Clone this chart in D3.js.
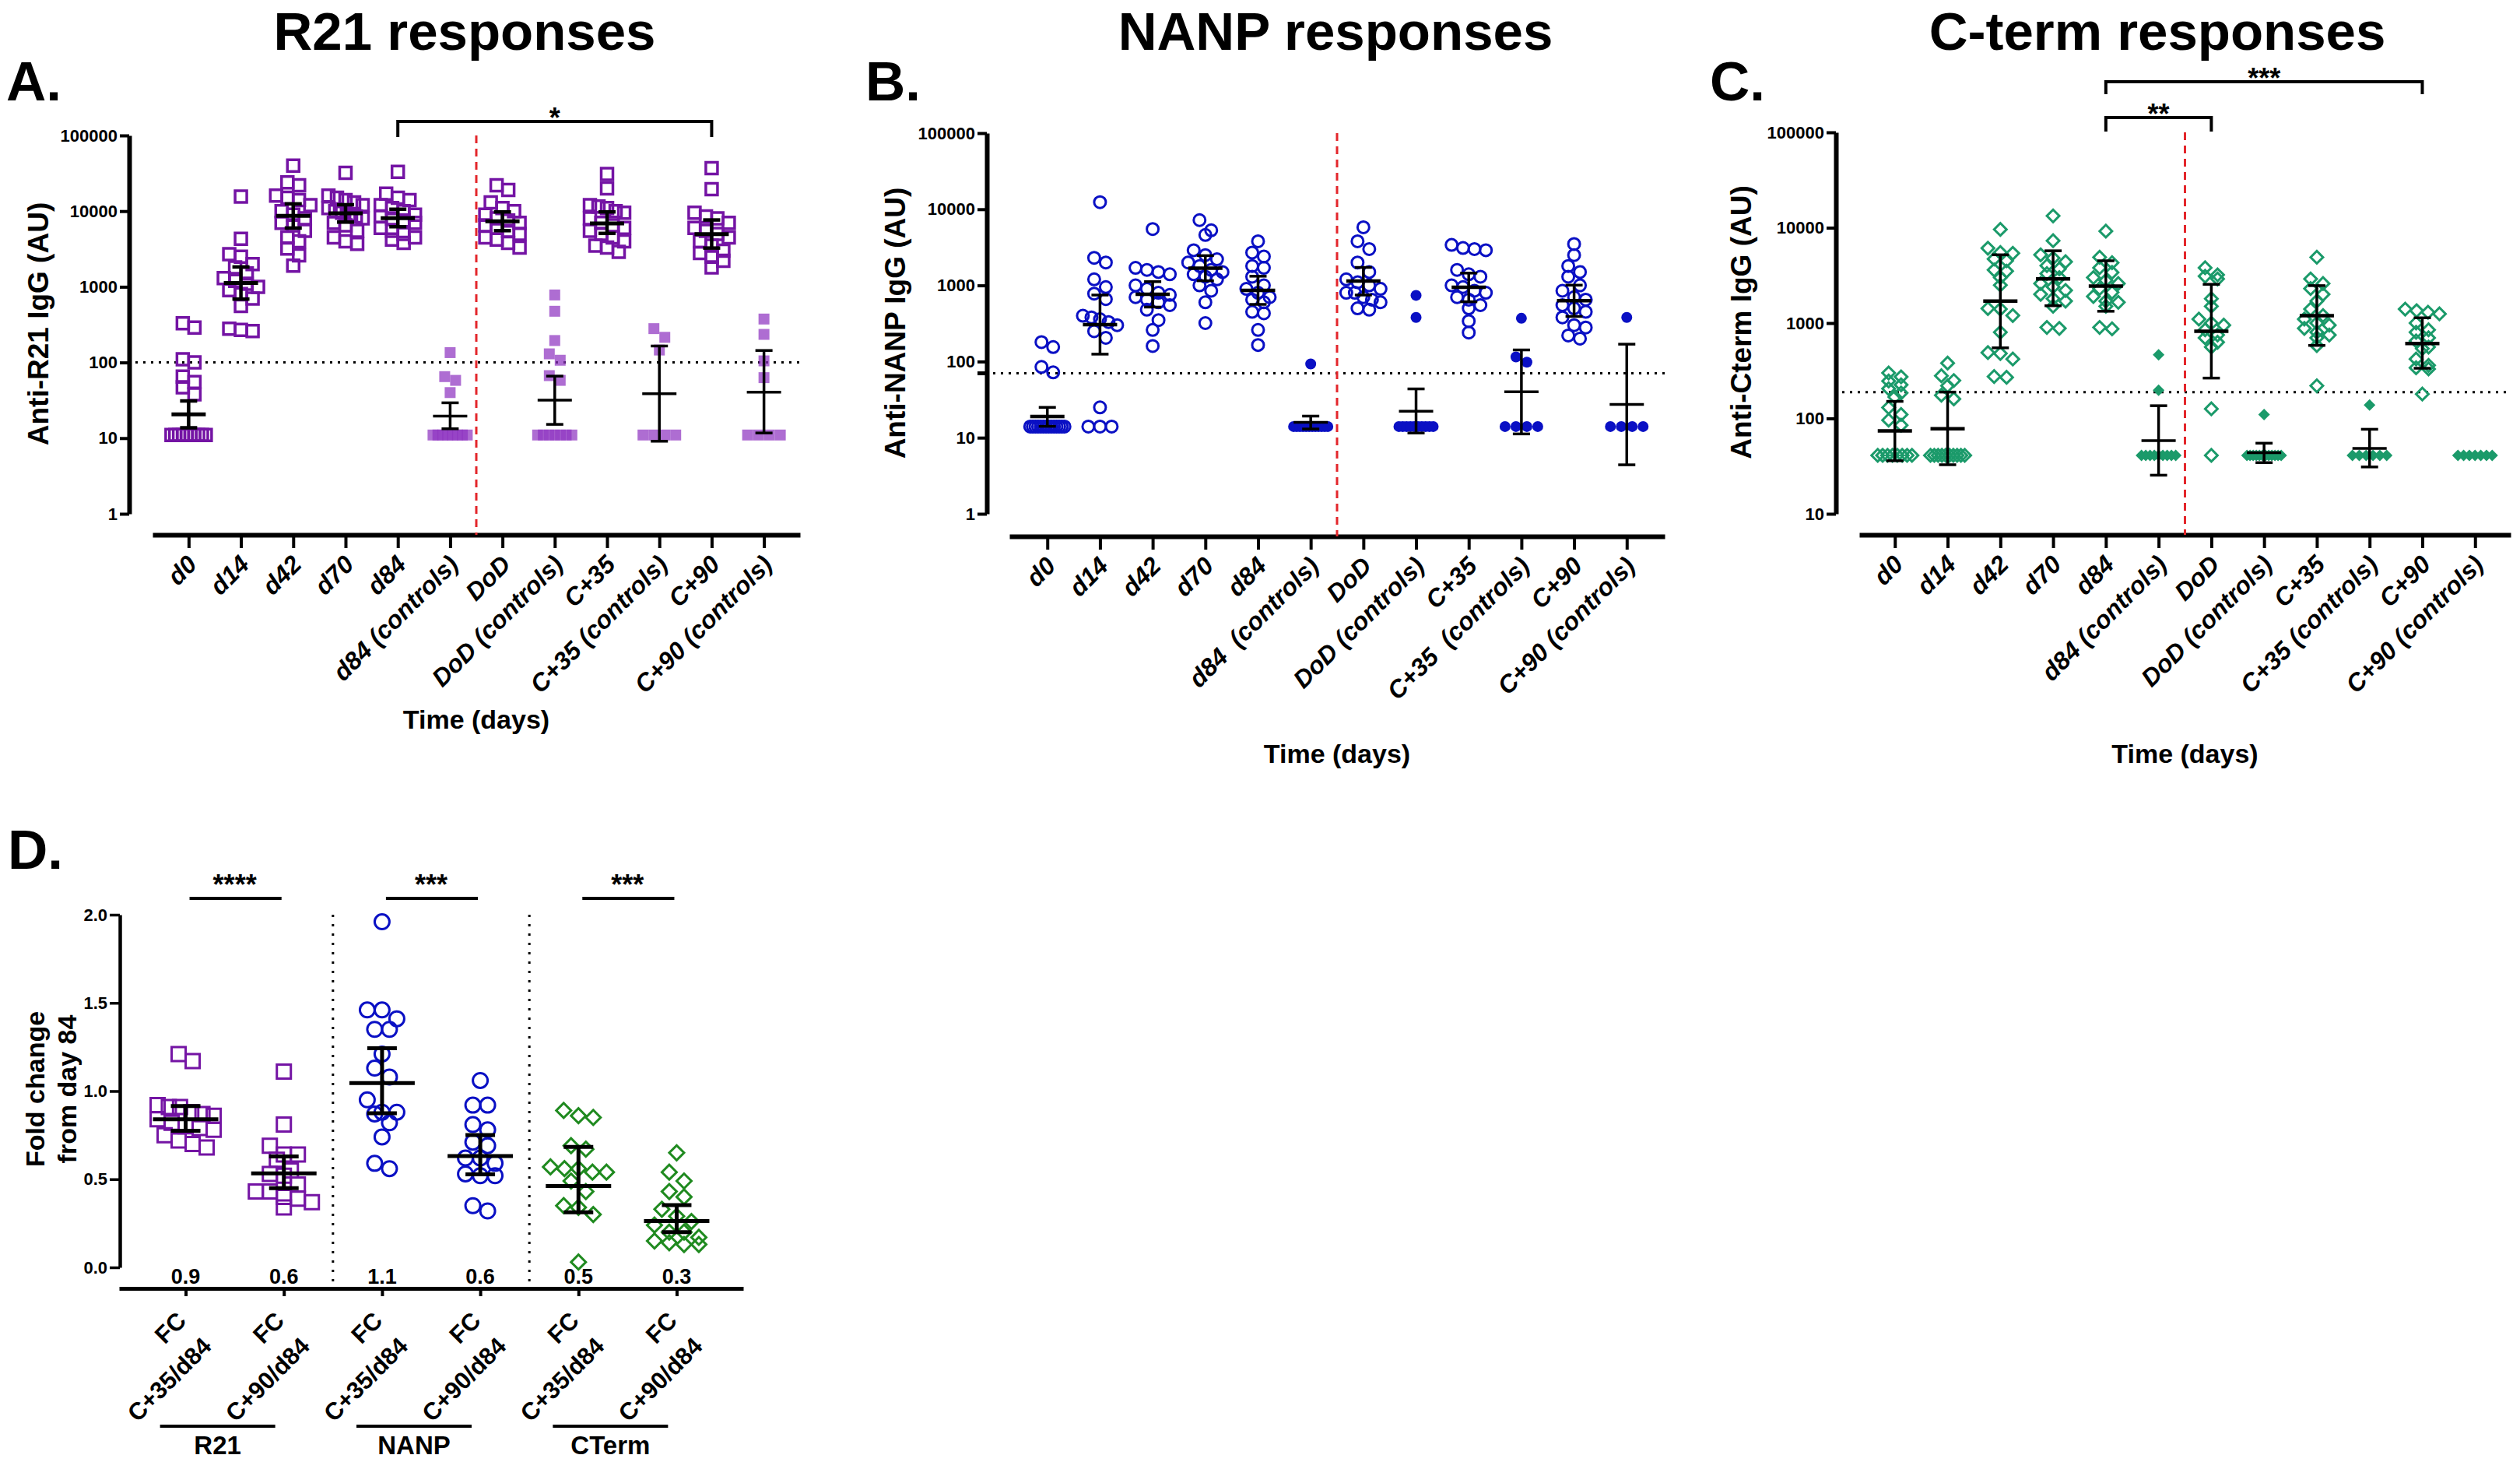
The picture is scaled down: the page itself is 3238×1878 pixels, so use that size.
<!DOCTYPE html>
<html><head><meta charset="utf-8">
<script src="https://cdn.jsdelivr.net/npm/d3@7"></script>
<style>
body{margin:0;background:#fff;}
svg{display:block;font-family:"Liberation Sans",Arial,Helvetica,sans-serif;}
text{white-space:pre;}
</style></head><body>
<svg id="chart" width="3238" height="1878"></svg>
<script>
// ---------------- DATA ----------------
const categories = ["d0","d14","d42","d70","d84","d84 (controls)","DoD","DoD (controls)","C+35","C+35 (controls)","C+90","C+90 (controls)"];
const categoriesNANP = ["d0","d14","d42","d70","d84","d84  (controls)","DoD","DoD (controls)","C+35","C+35  (controls)","C+90","C+90 (controls)"];
const isControl = [false,false,false,false,false,true,false,true,false,true,false,true];
const ticksR21 = [1,10,100,1000,10000,100000];
const ticksNANP = [1,10,100,1000,10000,100000];
const ticksCterm = [10,100,1000,10000,100000];

// R21 (panel A) individual values (AU)
const r21Points = [
  [330,290,110,100,65,55,47,38,11,11,11,11,11,11,11,11,11,11],
  [15600,4300,2700,2500,2000,1800,1500,1300,1200,1100,1000,900,800,700,560,280,270,260],
  [40000,24000,22000,16000,15000,14000,12000,10000,9000,8000,7000,6500,5500,4500,4000,3200,2600,1900],
  [32000,16000,15000,14000,13000,12000,11000,10000,9500,9000,8500,8000,7000,6500,5500,4500,4000,3700],
  [33000,17000,15000,14000,12000,11000,10000,9000,8500,8000,7500,7000,6000,5500,5000,4500,4200,3800],
  [135,65,58,40,11,11,11,11,11,11,11,11],
  [22000,19000,13000,11000,10000,9000,8000,7500,7000,6500,6000,5500,5000,4500,4200,3800,3300],
  [780,475,195,130,107,67,58,11,11,11,11,11,11,11],
  [31000,20000,12000,11500,11000,10000,9500,8000,7000,6500,6000,5500,5000,4500,4000,3500,3300,2900],
  [280,215,146,11,11,11,11],
  [37000,19500,9500,8500,8000,7000,6000,5500,5000,4500,4000,3500,3000,2800,2500,2200,1800],
  [375,235,105,63,11,11,11,11]
];
const r21Mean = [20.6,1120,8640,9340,8080,19.5,7350,31.8,6870,38.7,4960,40.6];
const r21Lo   = [13.7,688,5980,7160,6220,13.3,5520,15.2,5080,9.1,3250,11.7];
const r21Hi   = [31,1830,12470,12150,10590,29.3,9770,66,9770,165,7640,144];
const r21Threshold = 100;

// NANP (panel B)
const nanpPoints = [
  [180,155,85,72,14,14,14,14,14,14,14,14,14,14,14,14,14,14],
  [12400,2300,2000,1200,950,780,660,400,380,360,330,300,250,205,25,14,14,14],
  [5500,1700,1600,1500,1400,1000,900,800,750,700,650,600,550,480,350,260,160],
  [7200,5300,4600,2900,2500,2200,2000,1800,1600,1500,1400,1300,1200,1000,850,600,320],
  [3800,2700,2400,1800,1700,1300,1000,900,800,700,650,600,450,430,260,165],
  [93,14,14,14,14,14,14,14,14,14,14,14,14],
  [5800,3800,3000,2000,1500,1200,1100,1000,900,800,800,700,650,600,500,480],
  [740,380,14,14,14,14,14,14,14,14,14,14],
  [3400,3100,3000,2900,1600,1400,1300,1000,950,850,800,700,650,550,500,340,240],
  [370,115,98,14,14,14,14],
  [3500,2500,1800,1500,1300,1000,850,700,650,550,500,450,380,300,280,220,200],
  [380,14,14,14,14]
];
const nanpMean = [19,306,764,1680,858,15.9,1138,22.3,945,40,630,27.3];
const nanpLo   = [14.1,125,519,1150,563,13,747,11.5,610,11.2,391,4.4];
const nanpHi   = [25,747,1120,2460,1320,19.2,1722,43.7,1450,142,1007,169];
const nanpThreshold = 70;

// C-term (panel C)
const ctermPoints = [
  [300,273,247,225,205,185,168,130,110,96,85,41,41,41,41,41,41,41,41],
  [380,280,250,220,175,160,41,41,41,41,41,41,41,41,41,41],
  [9600,6100,5500,5400,4700,4500,3600,3500,3000,2500,1420,1400,1200,800,490,480,420,275,270],
  [13300,7300,5200,4800,4400,4000,3700,3300,3000,2600,2400,2200,2000,1800,1700,1500,900,880],
  [9200,4900,4300,3800,3400,3000,2800,2600,2300,2100,1900,1700,1650,1500,900,870],
  [464,198,41,41,41,41,41,41,41,41,41],
  [3800,3200,3100,2900,1800,1500,1100,1000,950,850,750,700,630,560,126,41],
  [110,41,41,41,41,41,41,41,41,41,41,41,41],
  [4900,2900,2600,2300,2000,1700,1400,1200,1100,1000,950,880,800,750,700,580,220],
  [138,41,41,41,41,41,41],
  [1400,1350,1300,1250,1000,850,800,700,650,560,540,420,360,340,330,180],
  [41,41,41,41,41,41,41]
];
const ctermMean = [74,78,1700,2900,2440,58.5,820,43.7,1196,48.5,610,null];
const ctermLo   = [36,32.7,550,1520,1330,25.4,265,34.4,583,31,336,null];
const ctermHi   = [151,189,5200,5730,4500,136,2550,55,2470,77,1135,null];
const ctermThreshold = 189;

// Fold change (panel D)
const fcLine1 = ["FC","FC","FC","FC","FC","FC"];
const fcLine2 = ["C+35/d84","C+90/d84","C+35/d84","C+90/d84","C+35/d84","C+90/d84"];
const fcGroups = ["R21","NANP","CTerm"];
const fcSig = ["****","***","***"];
const fcValueLabels = ["0.9","0.6","1.1","0.6","0.5","0.3"];
const fcTicks = [0,0.5,1,1.5,2];
const fcPoints = [
  [1.21,1.17,0.92,0.91,0.91,0.88,0.87,0.86,0.84,0.82,0.80,0.79,0.78,0.75,0.72,0.70,0.68],
  [1.11,0.81,0.69,0.64,0.64,0.61,0.55,0.53,0.52,0.47,0.43,0.43,0.40,0.39,0.37,0.34],
  [1.96,1.46,1.46,1.41,1.35,1.35,1.21,1.13,1.08,0.95,0.88,0.88,0.87,0.82,0.74,0.59,0.56],
  [1.06,0.92,0.92,0.81,0.78,0.71,0.69,0.62,0.62,0.59,0.53,0.52,0.52,0.35,0.32],
  [0.89,0.86,0.85,0.69,0.67,0.57,0.56,0.56,0.54,0.54,0.49,0.43,0.35,0.34,0.30,0.03],
  [0.65,0.54,0.49,0.43,0.40,0.33,0.29,0.26,0.24,0.20,0.20,0.17,0.15,0.14,0.13,0.13]
];
const fcMean = [0.84,0.533,1.045,0.631,0.461,0.263];
const fcLo   = [0.775,0.449,0.874,0.528,0.312,0.20];
const fcHi   = [0.915,0.629,1.243,0.751,0.683,0.353];

// ---------------- DRAWING ----------------
const svg = d3.select("#chart");
const PURPLE = "#7414a4", PURPLE_FILL = "#8f35c0", BLUE = "#0a10c4", GREEN = "#1b9a6a", DGREEN = "#1f8a1f", RED = "#e3262b";

function swarmOffsets(pys, size, maxHalf, rowFactor) {
  const idx = pys.map((p, i) => i).sort((a, b) => pys[a] - pys[b]);
  const off = new Array(pys.length).fill(0);
  let row = [], start = null;
  const flush = () => {
    const n = row.length;
    const sp = n > 1 ? Math.min(size, 2 * maxHalf / (n - 1)) : 0;
    row.forEach((k, j) => off[k] = (j - (n - 1) / 2) * sp);
    row = [];
  };
  idx.forEach(k => {
    if (row.length && pys[k] - start > size * rowFactor) flush();
    if (!row.length) start = pys[k];
    row.push(k);
  });
  flush();
  return off;
}

function symbolPath(shape, size) {
  if (shape === "circle") return d3.symbol(d3.symbolCircle, Math.PI * (size / 2) ** 2)();
  if (shape === "diamond") return d3.symbol(d3.symbolSquare, (size / Math.SQRT2) ** 2)();
  return d3.symbol(d3.symbolSquare, size * size)();
}

function drawPanel(p) {
  const g = svg.append("g");
  const y = d3.scaleLog().domain(p.yDomain).range([p.yBot, p.yTop]);
  const x = d3.scalePoint().domain(d3.range(p.cats.length)).range([p.xStart, p.xEnd]).padding(p.pad);

  // title + letter
  g.append("text").attr("x", p.titleX).attr("y", 64).attr("text-anchor", "middle")
    .attr("font-size", 69).attr("font-weight", "bold").text(p.title);
  g.append("text").attr("x", p.letterX).attr("y", 129).attr("font-size", 71)
    .attr("font-weight", "bold").text(p.letter);

  // y axis
  const ya = g.append("g").attr("transform", `translate(${p.axisX},0)`)
    .call(d3.axisLeft(y).tickValues(p.yTicks).tickFormat(d3.format("d")).tickSize(12).tickSizeOuter(0).tickPadding(3));
  ya.select(".domain").attr("stroke-width", 6).attr("stroke", "#000");
  ya.selectAll(".tick line").attr("stroke-width", 4);
  ya.selectAll(".tick text").attr("font-size", 22).attr("font-weight", "bold").attr("fill", "#000");
  if (p.thresholdTick) {
    g.append("line").attr("x1", p.axisX - 12).attr("x2", p.axisX).attr("y1", y(p.threshold)).attr("y2", y(p.threshold))
      .attr("stroke", "#000").attr("stroke-width", 5);
  }
  // y label
  g.append("text").attr("transform", `translate(${p.yLabelX + 13},${p.yLabelY}) rotate(-90)`)
    .attr("text-anchor", "middle").attr("font-size", 37).attr("font-weight", "bold").text(p.yLabel);

  // x axis
  const xa = g.append("g").attr("transform", `translate(0,${p.xAxisY})`)
    .call(d3.axisBottom(x).tickSize(17).tickSizeOuter(0).tickFormat(i => p.cats[i]));
  xa.select(".domain").attr("stroke-width", 6).attr("stroke", "#000");
  xa.selectAll(".tick line").attr("stroke-width", 4);
  xa.selectAll(".tick text").attr("font-size", 32).attr("font-weight", "bold").attr("font-style", "italic")
    .attr("fill", "#000").attr("text-anchor", "end").attr("y", 0).attr("dy", 0)
    .attr("transform", "translate(12,40) rotate(-45)");
  g.append("text").attr("x", (p.xStart + p.xEnd) / 2).attr("y", p.timeY).attr("text-anchor", "middle")
    .attr("font-size", 34).attr("font-weight", "bold").text("Time (days)");

  // threshold dotted line
  g.append("line").attr("x1", p.axisX + 8).attr("x2", p.xEnd).attr("y1", y(p.threshold)).attr("y2", y(p.threshold))
    .attr("stroke", "#000").attr("stroke-width", 3).attr("stroke-dasharray", "3,7");
  // red dashed challenge line
  const rx = (x(5) + x(6)) / 2;
  g.append("line").attr("x1", rx).attr("x2", rx).attr("y1", p.yTop).attr("y2", p.xAxisY)
    .attr("stroke", RED).attr("stroke-width", 3).attr("stroke-dasharray", "10,7");

  // points
  p.points.forEach((vals, i) => {
    const ctrl = isControl[i];
    const pys = vals.map(v => y(v));
    const size = ctrl ? p.fillSize : p.openSize;
    const offs = swarmOffsets(pys, size, 22, p.rowFactor);
    const d = symbolPath(p.shape, size);
    g.append("g").selectAll("path").data(vals).enter().append("path")
      .attr("d", d)
      .attr("transform", (v, k) => `translate(${x(i) + offs[k]},${pys[k]})` + (p.shape === "diamond" ? " rotate(45)" : ""))
      .attr("fill", ctrl ? p.fill : "none")
      .attr("fill-opacity", ctrl ? p.fillOpacity : 1)
      .attr("stroke", ctrl ? "none" : p.color)
      .attr("stroke-width", p.strokeW);
  });

  // mean + 95% CI
  p.mean.forEach((m, i) => {
    if (m == null) return;
    const ctrl = isControl[i];
    const lw = ctrl ? 3.5 : p.meanW, ww = ctrl ? 3.5 : p.whiskW;
    const cx = x(i);
    const eg = g.append("g").attr("stroke", "#000");
    eg.append("line").attr("x1", cx).attr("x2", cx).attr("y1", y(p.lo[i])).attr("y2", y(p.hi[i])).attr("stroke-width", ww);
    [p.lo[i], p.hi[i]].forEach(v => eg.append("line").attr("x1", cx - 11).attr("x2", cx + 11)
      .attr("y1", y(v)).attr("y2", y(v)).attr("stroke-width", ww));
    eg.append("line").attr("x1", cx - 22).attr("x2", cx + 22).attr("y1", y(m)).attr("y2", y(m)).attr("stroke-width", lw);
  });

  // significance brackets
  p.brackets.forEach(b => {
    const x1 = x(b.from), x2 = x(b.to);
    g.append("path").attr("d", `M${x1},${b.y + b.leg}V${b.y}H${x2}V${b.y + b.leg}`)
      .attr("fill", "none").attr("stroke", "#000").attr("stroke-width", 4);
    g.append("text").attr("x", (x1 + x2) / 2).attr("y", b.y + 8).attr("text-anchor", "middle")
      .attr("font-size", 36).attr("font-weight", "bold").text(b.label);
  });
}

drawPanel({
  title: "R21 responses", titleX: 597, letter: "A.", letterX: 8,
  cats: categories, points: r21Points, mean: r21Mean, lo: r21Lo, hi: r21Hi, threshold: r21Threshold,
  yDomain: [1, 100000], yTicks: ticksR21, yTop: 174, yBot: 660, axisX: 166,
  xAxisY: 687, xStart: 196, xEnd: 1028, pad: 0.69, timeY: 936,
  yLabel: "Anti-R21 IgG (AU)", yLabelX: 49, yLabelY: 416,
  shape: "square", color: PURPLE, fill: PURPLE_FILL, fillOpacity: 0.72, openSize: 15, fillSize: 14, strokeW: 3.5,
  meanW: 5, whiskW: 4.5, rowFactor: 0.9,
  brackets: [{from: 4, to: 10, y: 156, leg: 20, label: "*"}]
});
drawPanel({
  title: "NANP responses", titleX: 1716, letter: "B.", letterX: 1112,
  cats: categoriesNANP, points: nanpPoints, mean: nanpMean, lo: nanpLo, hi: nanpHi, threshold: nanpThreshold, thresholdTick: true,
  yDomain: [1, 100000], yTicks: ticksNANP, yTop: 171, yBot: 660, axisX: 1268,
  xAxisY: 689, xStart: 1297, xEnd: 2139, pad: 0.72, timeY: 980,
  yLabel: "Anti-NANP IgG (AU)", yLabelX: 1150, yLabelY: 415,
  shape: "circle", color: BLUE, fill: BLUE, fillOpacity: 1, openSize: 15, fillSize: 14, strokeW: 3,
  meanW: 4.5, whiskW: 3.5, rowFactor: 0.9,
  brackets: []
});
drawPanel({
  title: "C-term responses", titleX: 2772, letter: "C.", letterX: 2197,
  cats: categories, points: ctermPoints, mean: ctermMean, lo: ctermLo, hi: ctermHi, threshold: ctermThreshold,
  yDomain: [10, 100000], yTicks: ticksCterm, yTop: 170, yBot: 660, axisX: 2359,
  xAxisY: 687, xStart: 2389, xEnd: 3226, pad: 0.675, timeY: 980,
  yLabel: "Anti-Cterm IgG (AU)", yLabelX: 2237, yLabelY: 414,
  shape: "diamond", color: GREEN, fill: GREEN, fillOpacity: 1, openSize: 16, fillSize: 15, strokeW: 3,
  meanW: 4.5, whiskW: 3.5, rowFactor: 0.6,
  brackets: [{from: 4, to: 10, y: 105, leg: 16, label: "***"}, {from: 4, to: 6, y: 151, leg: 18, label: "**"}]
});

// ---------- Panel D ----------
(function () {
  const g = svg.append("g");
  const y = d3.scaleLinear().domain([0, 2]).range([1628, 1175]);
  const x = d3.scalePoint().domain(d3.range(6)).range([153, 955]).padding(0.678);
  const shapes = ["square", "square", "circle", "circle", "diamond", "diamond"];
  const colors = [PURPLE, PURPLE, BLUE, BLUE, DGREEN, DGREEN];

  g.append("text").attr("x", 10).attr("y", 1116).attr("font-size", 71).attr("font-weight", "bold").text("D.");

  const ya = g.append("g").attr("transform", "translate(154,0)")
    .call(d3.axisLeft(y).tickValues(fcTicks).tickFormat(d3.format(".1f")).tickSize(13).tickSizeOuter(0).tickPadding(3));
  ya.select(".domain").attr("stroke-width", 4.5).attr("stroke", "#000");
  ya.selectAll(".tick line").attr("stroke-width", 3.5);
  ya.selectAll(".tick text").attr("font-size", 22).attr("font-weight", "bold").attr("fill", "#000");

  const yl = g.append("text").attr("transform", "translate(57,1399) rotate(-90)")
    .attr("text-anchor", "middle").attr("font-size", 34).attr("font-weight", "bold");
  yl.append("tspan").attr("x", 0).attr("y", 0).text("Fold change");
  yl.append("tspan").attr("x", 0).attr("y", 41).text("from day 84");

  const xa = g.append("g").attr("transform", "translate(0,1655)")
    .call(d3.axisBottom(x).tickSize(10).tickSizeOuter(0).tickFormat(""));
  xa.select(".domain").attr("stroke-width", 5).attr("stroke", "#000");
  xa.selectAll(".tick line").attr("stroke-width", 4);

  // two-line rotated tick labels
  d3.range(6).forEach(i => {
    const t = g.append("text").attr("transform", `translate(${x(i) + 35},${1655 + 76}) rotate(-45)`)
      .attr("text-anchor", "end").attr("font-size", 31).attr("font-weight", "bold");
    t.append("tspan").attr("x", 0).attr("y", -46).text(fcLine1[i]);
    t.append("tspan").attr("x", 0).attr("y", 0).text(fcLine2[i]);
    g.append("text").attr("x", x(i)).attr("y", 1649).attr("text-anchor", "middle")
      .attr("font-size", 27).attr("font-weight", "bold").text(fcValueLabels[i]);
  });

  // dotted separators
  [[1, 2], [3, 4]].forEach(([a, b]) => {
    const sx = (x(a) + x(b)) / 2;
    g.append("line").attr("x1", sx).attr("x2", sx).attr("y1", 1175).attr("y2", 1655)
      .attr("stroke", "#000").attr("stroke-width", 3).attr("stroke-dasharray", "3,9");
  });

  // significance + group labels
  fcGroups.forEach((name, k) => {
    const a = x(2 * k), b = x(2 * k + 1);
    g.append("line").attr("x1", a + 5).attr("x2", b - 3).attr("y1", 1154).attr("y2", 1154)
      .attr("stroke", "#000").attr("stroke-width", 4);
    g.append("text").attr("x", (a + b) / 2).attr("y", 1149).attr("text-anchor", "middle")
      .attr("font-size", 36).attr("font-weight", "bold").text(fcSig[k]);
    const mid = (a + b) / 2 - 22;
    g.append("line").attr("x1", mid - 74).attr("x2", mid + 74).attr("y1", 1832).attr("y2", 1832)
      .attr("stroke", "#000").attr("stroke-width", 4);
    g.append("text").attr("x", mid).attr("y", 1868).attr("text-anchor", "middle")
      .attr("font-size", 33).attr("font-weight", "bold").text(name);
  });

  // points
  fcPoints.forEach((vals, i) => {
    const pys = vals.map(v => y(v));
    const size = shapes[i] === "square" ? 18 : 19;
    const offs = swarmOffsets(pys, size, 36, 0.9);
    const d = symbolPath(shapes[i], size);
    g.append("g").selectAll("path").data(vals).enter().append("path")
      .attr("d", d)
      .attr("transform", (v, k) => `translate(${x(i) + offs[k]},${pys[k]})` + (shapes[i] === "diamond" ? " rotate(45)" : ""))
      .attr("fill", "none").attr("stroke", colors[i]).attr("stroke-width", 3);
  });
  // mean + CI
  fcMean.forEach((m, i) => {
    const cx = x(i);
    const eg = g.append("g").attr("stroke", "#000").attr("stroke-width", 5);
    eg.append("line").attr("x1", cx).attr("x2", cx).attr("y1", y(fcLo[i])).attr("y2", y(fcHi[i]));
    [fcLo[i], fcHi[i]].forEach(v => eg.append("line").attr("x1", cx - 19).attr("x2", cx + 19).attr("y1", y(v)).attr("y2", y(v)));
    eg.append("line").attr("x1", cx - 42).attr("x2", cx + 42).attr("y1", y(m)).attr("y2", y(m));
  });
})();
</script>
</body></html>
